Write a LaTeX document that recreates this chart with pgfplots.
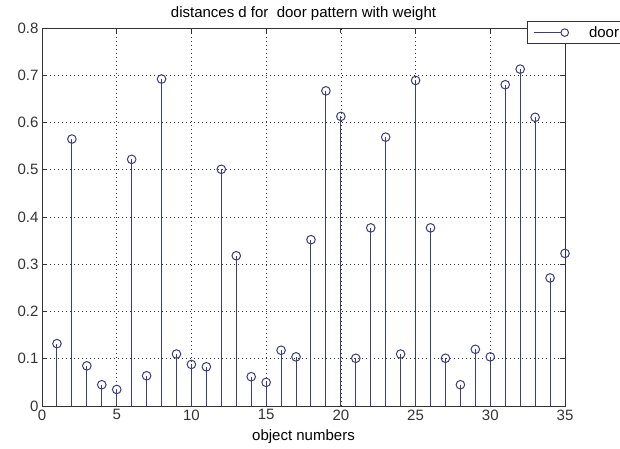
\documentclass[border=0pt]{standalone}
\usepackage{pgfplots}
\pgfplotsset{compat=1.18}
\usepackage{fontspec}
\setmainfont{Liberation Sans}
\definecolor{stemblue}{RGB}{60,60,130}
\newcommand{\chartfont}{\fontsize{15}{17}\selectfont}

\begin{document}
\begin{tikzpicture}
	\useasboundingbox (-42pt,-42pt) rectangle (578pt,406pt);
	\begin{axis}[
		scale only axis, width=523pt, height=378pt,
		xmin=0, xmax=35, ymin=0, ymax=0.8,
		xtick={0,5,...,35}, ytick={0,0.1,...,0.8},
		yticklabel style={/pgf/number format/.cd, fixed, precision=1},
		/pgf/number format/assume math mode=true,
		tick label style={font=\chartfont, text=black!80},
		label style={font=\chartfont},
		title style={font=\chartfont, yshift=-2pt},
		tick align=inside, major tick length=5pt,
		grid=major, grid style={black!80, line width=0.7pt, dash pattern=on 0.8pt off 3.2pt},
		axis line style={black!80, line width=0.8pt},
		tick style={black!80, line width=0.8pt},
		title={distances d for\ \ door pattern with weight},
		xlabel={object numbers},
		xlabel style={yshift=-3pt},
		legend style={at={(0.927,1.0185)}, anchor=north west, draw=black!80, line width=0.8pt,
			inner xsep=6pt, inner ysep=3pt, font=\chartfont},
		legend cell align=left,
		legend image code/.code={\draw[stemblue, line width=1pt] (0pt,0pt) -- (31pt,0pt); \draw[stemblue, line width=1pt, fill=white] (31pt,0pt) circle (3.8pt);},
	]
		\addplot+[ycomb, draw=stemblue, line width=1pt, mark=o, mark size=4.3pt, mark options={draw=stemblue, fill=white, line width=1pt}] coordinates {
			(1,0.132) (2,0.565) (3,0.085) (4,0.045) (5,0.035)
			(6,0.522) (7,0.064) (8,0.692) (9,0.110) (10,0.088)
			(11,0.083) (12,0.501) (13,0.318) (14,0.062) (15,0.050)
			(16,0.118) (17,0.104) (18,0.352) (19,0.667) (20,0.613)
			(21,0.101) (22,0.377) (23,0.569) (24,0.110) (25,0.689)
			(26,0.377) (27,0.101) (28,0.045) (29,0.120) (30,0.104)
			(31,0.680) (32,0.713) (33,0.611) (34,0.271) (35,0.323)
		};
		\addlegendentry{\hspace{18pt}door}
	\end{axis}
\end{tikzpicture}
\end{document}
